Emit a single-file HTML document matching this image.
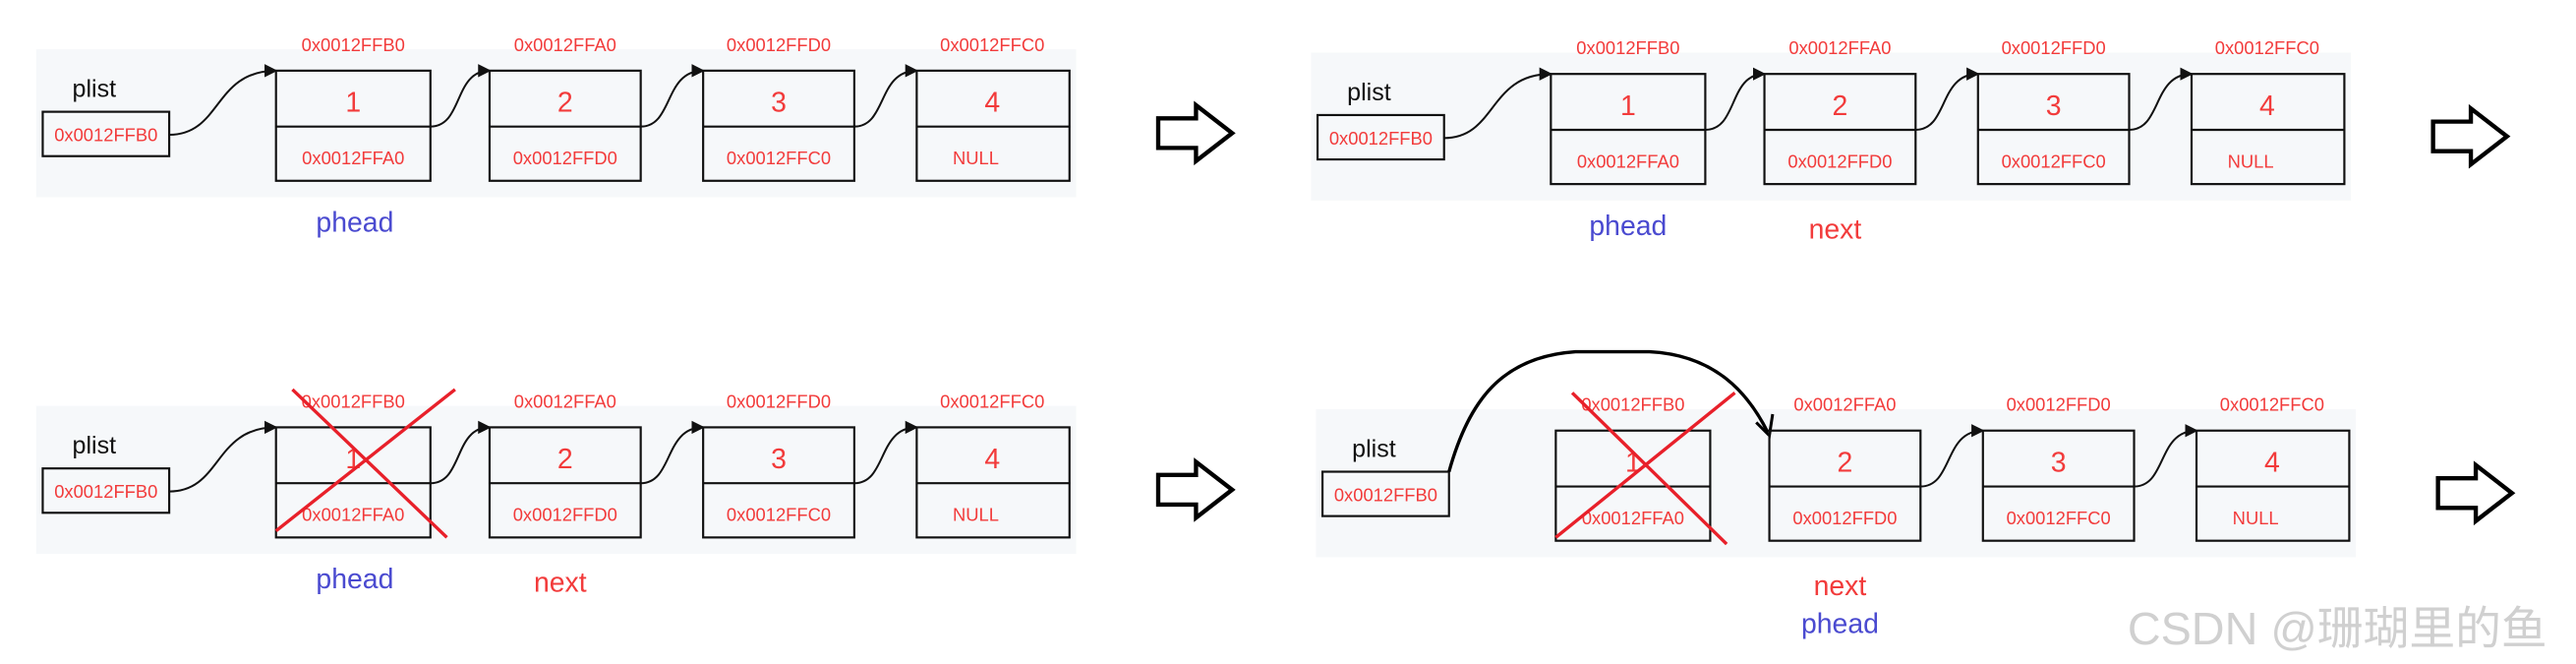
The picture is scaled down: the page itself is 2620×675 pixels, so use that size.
<!DOCTYPE html>
<html><head><meta charset="utf-8"><style>
html,body{margin:0;padding:0;background:#fff;width:2620px;height:675px;overflow:hidden}
svg{display:block}
text{font-family:"Liberation Sans","Noto Sans CJK SC",sans-serif}
.a{fill:#f23b3b;font-size:11px;text-anchor:middle;font-family:"Liberation Sans Narrow","Liberation Sans",sans-serif}
.n{fill:#f23b3b;font-size:17px;text-anchor:middle}
.k{fill:#111;font-size:15px}
.b{fill:#4a4ad0;font-size:17px;text-anchor:middle}
.r{fill:#f23b3b;font-size:17px;text-anchor:middle}
.box{fill:none;stroke:#111;stroke-width:1.3}
.c{fill:none;stroke:#111;stroke-width:1.2}
.ar{fill:#fff;stroke:#000;stroke-width:2.6}
</style></head><body>
<svg width="2620" height="675" viewBox="0 0 1568 404" preserveAspectRatio="none">
<defs><marker id="m" markerWidth="8" markerHeight="8" refX="7" refY="4" orient="auto" markerUnits="userSpaceOnUse"><path d="M0,0 L8,4 L0,8 z" fill="#111"/></marker></defs>

<g id="p1">
<rect x="22" y="30" width="633" height="90" fill="#f6f8fa"/>
<text class="k" x="44" y="59">plist</text>
<rect class="box" x="26" y="68" width="77" height="27"/><text class="a" x="64.5" y="86">0x0012FFB0</text>
<path class="c" marker-end="url(#m)" d="M103,82 C135,82 130,43 168,43"/>
<rect class="box" x="168" y="43" width="94" height="67"/><line class="box" x1="168" y1="77" x2="262" y2="77"/>
<text class="a" x="215" y="31">0x0012FFB0</text><text class="n" x="215" y="68">1</text><text class="a" x="215" y="100">0x0012FFA0</text>
<path class="c" marker-end="url(#m)" d="M262,77 C282,77 276,43 298,43"/>
<rect class="box" x="298" y="43" width="92" height="67"/><line class="box" x1="298" y1="77" x2="390" y2="77"/>
<text class="a" x="344" y="31">0x0012FFA0</text><text class="n" x="344" y="68">2</text><text class="a" x="344" y="100">0x0012FFD0</text>
<path class="c" marker-end="url(#m)" d="M390,77 C410,77 404,43 428,43"/>
<rect class="box" x="428" y="43" width="92" height="67"/><line class="box" x1="428" y1="77" x2="520" y2="77"/>
<text class="a" x="474" y="31">0x0012FFD0</text><text class="n" x="474" y="68">3</text><text class="a" x="474" y="100">0x0012FFC0</text>
<path class="c" marker-end="url(#m)" d="M520,77 C540,77 534,43 558,43"/>
<rect class="box" x="558" y="43" width="93" height="67"/><line class="box" x1="558" y1="77" x2="651" y2="77"/>
<text class="a" x="604" y="31">0x0012FFC0</text><text class="n" x="604" y="68">4</text><text class="a" x="594" y="100">NULL</text>
<text class="b" x="216" y="141">phead</text>
<polygon class="ar" points="705,72 728,72 728,64 750,81 728,98 728,90 705,90"/>
</g>

<g transform="translate(776,2)">
<rect x="22" y="30" width="633" height="90" fill="#f6f8fa"/>
<text class="k" x="44" y="59">plist</text>
<rect class="box" x="26" y="68" width="77" height="27"/><text class="a" x="64.5" y="86">0x0012FFB0</text>
<path class="c" marker-end="url(#m)" d="M103,82 C135,82 130,43 168,43"/>
<rect class="box" x="168" y="43" width="94" height="67"/><line class="box" x1="168" y1="77" x2="262" y2="77"/>
<text class="a" x="215" y="31">0x0012FFB0</text><text class="n" x="215" y="68">1</text><text class="a" x="215" y="100">0x0012FFA0</text>
<path class="c" marker-end="url(#m)" d="M262,77 C282,77 276,43 298,43"/>
<rect class="box" x="298" y="43" width="92" height="67"/><line class="box" x1="298" y1="77" x2="390" y2="77"/>
<text class="a" x="344" y="31">0x0012FFA0</text><text class="n" x="344" y="68">2</text><text class="a" x="344" y="100">0x0012FFD0</text>
<path class="c" marker-end="url(#m)" d="M390,77 C410,77 404,43 428,43"/>
<rect class="box" x="428" y="43" width="92" height="67"/><line class="box" x1="428" y1="77" x2="520" y2="77"/>
<text class="a" x="474" y="31">0x0012FFD0</text><text class="n" x="474" y="68">3</text><text class="a" x="474" y="100">0x0012FFC0</text>
<path class="c" marker-end="url(#m)" d="M520,77 C540,77 534,43 558,43"/>
<rect class="box" x="558" y="43" width="93" height="67"/><line class="box" x1="558" y1="77" x2="651" y2="77"/>
<text class="a" x="604" y="31">0x0012FFC0</text><text class="n" x="604" y="68">4</text><text class="a" x="594" y="100">NULL</text>
<text class="b" x="215" y="141">phead</text>
<text class="r" x="341" y="143">next</text>
<polygon class="ar" points="705,72 728,72 728,64 750,81 728,98 728,90 705,90"/>
</g>

<g transform="translate(0,217)">
<rect x="22" y="30" width="633" height="90" fill="#f6f8fa"/>
<text class="k" x="44" y="59">plist</text>
<rect class="box" x="26" y="68" width="77" height="27"/><text class="a" x="64.5" y="86">0x0012FFB0</text>
<path class="c" marker-end="url(#m)" d="M103,82 C135,82 130,43 168,43"/>
<rect class="box" x="168" y="43" width="94" height="67"/><line class="box" x1="168" y1="77" x2="262" y2="77"/>
<text class="a" x="215" y="31">0x0012FFB0</text><text class="n" x="215" y="68">1</text><text class="a" x="215" y="100">0x0012FFA0</text>
<line x1="178" y1="20" x2="272" y2="110" stroke="#e8202a" stroke-width="2"/>
<line x1="277" y1="20" x2="168" y2="106" stroke="#e8202a" stroke-width="2"/>
<path class="c" marker-end="url(#m)" d="M262,77 C282,77 276,43 298,43"/>
<rect class="box" x="298" y="43" width="92" height="67"/><line class="box" x1="298" y1="77" x2="390" y2="77"/>
<text class="a" x="344" y="31">0x0012FFA0</text><text class="n" x="344" y="68">2</text><text class="a" x="344" y="100">0x0012FFD0</text>
<path class="c" marker-end="url(#m)" d="M390,77 C410,77 404,43 428,43"/>
<rect class="box" x="428" y="43" width="92" height="67"/><line class="box" x1="428" y1="77" x2="520" y2="77"/>
<text class="a" x="474" y="31">0x0012FFD0</text><text class="n" x="474" y="68">3</text><text class="a" x="474" y="100">0x0012FFC0</text>
<path class="c" marker-end="url(#m)" d="M520,77 C540,77 534,43 558,43"/>
<rect class="box" x="558" y="43" width="93" height="67"/><line class="box" x1="558" y1="77" x2="651" y2="77"/>
<text class="a" x="604" y="31">0x0012FFC0</text><text class="n" x="604" y="68">4</text><text class="a" x="594" y="100">NULL</text>
<text class="b" x="216" y="141">phead</text>
<text class="r" x="341" y="143">next</text>
<polygon class="ar" points="705,72 728,72 728,64 750,81 728,98 728,90 705,90"/>
</g>

<g transform="translate(779,219)">
<rect x="22" y="30" width="633" height="90" fill="#f6f8fa"/>
<text class="k" x="44" y="59">plist</text>
<rect class="box" x="26" y="68" width="77" height="27"/><text class="a" x="64.5" y="86">0x0012FFB0</text>
<rect class="box" x="168" y="43" width="94" height="67"/><line class="box" x1="168" y1="77" x2="262" y2="77"/>
<text class="a" x="215" y="31">0x0012FFB0</text><text class="n" x="215" y="68">1</text><text class="a" x="215" y="100">0x0012FFA0</text>
<line x1="178" y1="20" x2="272" y2="112" stroke="#e8202a" stroke-width="2"/>
<line x1="277" y1="20" x2="168" y2="108" stroke="#e8202a" stroke-width="2"/>
<path d="M103,68 C115,25 135,-2 180,-5 L225,-5 C265,-3 285,20 297,44" fill="none" stroke="#000" stroke-width="2"/>
<path d="M290,38 L298,46 L300,33" fill="none" stroke="#000" stroke-width="1.8"/>
<rect class="box" x="298" y="43" width="92" height="67"/><line class="box" x1="298" y1="77" x2="390" y2="77"/>
<text class="a" x="344" y="31">0x0012FFA0</text><text class="n" x="344" y="68">2</text><text class="a" x="344" y="100">0x0012FFD0</text>
<path class="c" marker-end="url(#m)" d="M390,77 C410,77 404,43 428,43"/>
<rect class="box" x="428" y="43" width="92" height="67"/><line class="box" x1="428" y1="77" x2="520" y2="77"/>
<text class="a" x="474" y="31">0x0012FFD0</text><text class="n" x="474" y="68">3</text><text class="a" x="474" y="100">0x0012FFC0</text>
<path class="c" marker-end="url(#m)" d="M520,77 C540,77 534,43 558,43"/>
<rect class="box" x="558" y="43" width="93" height="67"/><line class="box" x1="558" y1="77" x2="651" y2="77"/>
<text class="a" x="604" y="31">0x0012FFC0</text><text class="n" x="604" y="68">4</text><text class="a" x="594" y="100">NULL</text>
<text class="r" x="341" y="143">next</text>
<text class="b" x="341" y="166">phead</text>
<polygon class="ar" points="705,72 728,72 728,64 750,81 728,98 728,90 705,90"/>
</g>

<text x="1295" y="392" style="fill:#d0d0d0;font-size:28px">CSDN @珊瑚里的鱼</text>
</svg>
</body></html>
